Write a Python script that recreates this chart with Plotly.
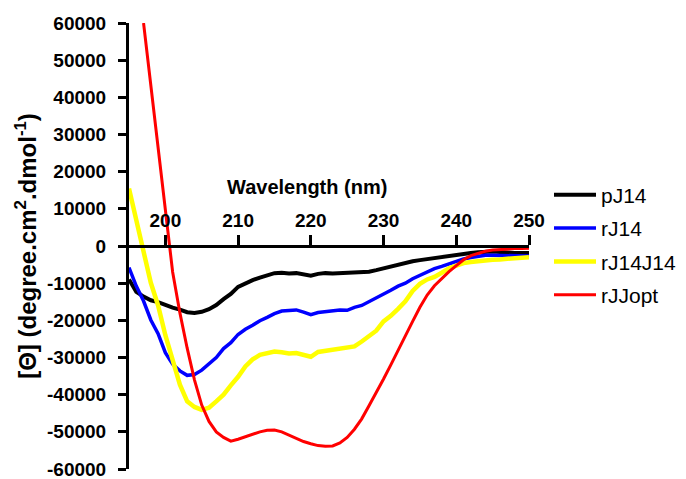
import plotly.graph_objects as go

# ---------------- data ----------------
wl = list(range(195, 251))          # 195 ... 250 nm
wl_red = list(range(197, 251))      # red trace starts at 197 nm

pJ14 = [-9000, -12300, -13600, -14600, -15100, -15900, -16600, -17100, -17800, -18000,
        -17700, -17000, -15900, -14300, -12900, -11000, -10000, -9200, -8500, -7900,
        -7300, -7200, -7400, -7300, -7600, -8000, -7500, -7300, -7400, -7300,
        -7400, -7200, -7100, -6900, -6500, -6000, -5400, -4900, -4500, -4100,
        -3800, -3500, -3300, -3000, -2700, -2500, -2200, -1900, -1700, -1500,
        -1500, -1600, -1800, -1900, -1900, -1900]

rJ14 = [-5800, -10800, -14800, -19900, -23600, -28700, -31800, -33600, -34800, -34600,
        -33400, -31600, -30000, -27600, -26000, -23800, -22400, -21300, -20100, -19200,
        -18200, -17500, -17300, -17200, -17800, -18500, -17900, -17700, -17600, -17200,
        -17300, -16500, -16000, -15000, -14000, -13100, -11900, -10800, -10000, -8800,
        -7900, -6900, -6100, -5500, -4800, -4200, -3500, -3100, -2700, -2500,
        -2500, -2500, -2600, -2600, -2700, -2700]

rJ14J14 = [15500, 7500, -1500, -9900, -16000, -24000, -30200, -37300, -41800, -43300,
           -44100, -43500, -41800, -40000, -37500, -35200, -32400, -30500, -29300, -28800,
           -28400, -28600, -28900, -28800, -29300, -29800, -28500, -28200, -28000, -27800,
           -27500, -27000, -25700, -24300, -22800, -20300, -18800, -16900, -14900, -12100,
           -10200, -9000, -8300, -7200, -6000, -5300, -4600, -4300, -4000, -3900,
           -3700, -3600, -3400, -3300, -3100, -3000]

rJJopt = [60000, 43500, 27000, 9500, -7000, -18000, -27500, -36000, -42800, -47200,
          -50000, -51500, -52500, -52000, -51300, -50700, -50000, -49600, -49500, -50000,
          -50900, -51800, -52600, -53200, -53700, -53900, -53800, -53000, -51500, -49300,
          -46500, -43000, -39600, -35800, -32000, -28000, -24300, -20300, -16500, -13200,
          -10700, -8700, -6900, -5300, -3700, -2600, -1900, -1400, -1100, -900,
          -800, -700, -650, -600]

x_ticks = [200, 210, 220, 230, 240, 250]
y_ticks = [-60000, -50000, -40000, -30000, -20000, -10000, 0,
           10000, 20000, 30000, 40000, 50000, 60000]
y_ticktext = ["-60000", "-50000", "-40000", "-30000", "-20000", "-10000", "0",
              "10000", "20000", "30000", "40000", "50000", "60000"]

FONT = "Arial, 'Liberation Sans', sans-serif"

fig = go.Figure()
series = [
    ("pJ14", wl, pJ14, "#000000", 4),
    ("rJ14", wl, rJ14, "#0000FF", 3.5),
    ("rJ14J14", wl, rJ14J14, "#FFFF00", 4.5),
    ("rJJopt", wl_red, rJJopt, "#FF0000", 3),
]
for name, xs, ys, col, w in series:
    fig.add_trace(go.Scatter(x=xs, y=ys, mode="lines", name=name, legendgroup=name,
                             line=dict(color=col, width=w), cliponaxis=True))

# page body has an 8px default margin, so the figure is 8px smaller and margins compensate
fig.update_layout(
    width=678, height=471,
    margin=dict(l=121, r=157, t=15, b=10, autoexpand=False),
    paper_bgcolor="white", plot_bgcolor="white",
    font=dict(family=FONT, color="black", size=19),
    showlegend=True,
    legend=dict(x=1.05, y=0.66, xanchor="left", yanchor="top",
                font=dict(family=FONT, size=21, color="black"),
                bgcolor="rgba(0,0,0,0)", borderwidth=0,
                tracegroupgap=3, itemwidth=42),
    xaxis=dict(range=[195, 250], anchor="free", position=0.5, side="top",
               automargin=False,
               showline=True, linecolor="black", linewidth=3,
               ticks="outside", ticklen=10, tickwidth=3, tickcolor="black",
               tickvals=x_ticks, ticktext=[str(v) for v in x_ticks],
               tickfont=dict(family=FONT, size=19, color="black", weight="bold"),
               ticklabeloverflow="allow",
               showgrid=False, zeroline=False),
    yaxis=dict(range=[-60000, 60000], automargin=False,
               showline=True, linecolor="black", linewidth=3,
               ticks="outside", ticklen=8, tickwidth=3, tickcolor="black",
               tickvals=y_ticks, ticktext=y_ticktext,
               tickfont=dict(family=FONT, size=19, color="black", weight="bold"),
               ticklabelstandoff=8, ticklabeloverflow="allow",
               showgrid=False, zeroline=False,
               title=dict(text="[Θ] (degree.cm<sup>2</sup>.dmol<sup>-1</sup>)",
                          font=dict(family=FONT, size=24, color="black", weight="bold"),
                          standoff=4)),
    annotations=[dict(text="<b>Wavelength (nm)</b>", xref="paper", yref="paper",
                      x=(307 - 129) / 400, y=(469 - 187) / 446,
                      xanchor="center", yanchor="middle", showarrow=False,
                      font=dict(family=FONT, size=20, color="black"))],
)

fig.write_html("out.html")
